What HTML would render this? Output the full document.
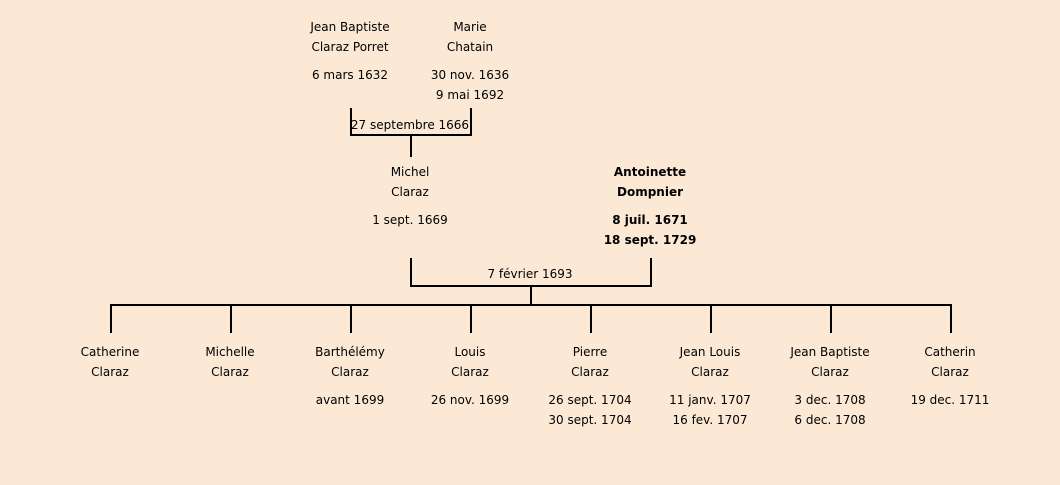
<!DOCTYPE html>
<html><head><meta charset="utf-8"><style>
body{margin:0;width:1060px;height:485px;background:#fbe9d6;position:relative;overflow:hidden;font-family:"DejaVu Sans","Liberation Sans",sans-serif;font-size:12px;color:#000}
.t{position:absolute;width:160px;margin-left:-80px;text-align:center;line-height:20px;white-space:nowrap}
.b{font-weight:bold}
.l{position:absolute;background:#000}
</style></head><body>
<div class="t" style="left:350px;top:17px">Jean Baptiste<br>Claraz Porret</div>
<div class="t" style="left:350px;top:65px">6 mars 1632</div>
<div class="t" style="left:470px;top:17px">Marie<br>Chatain</div>
<div class="t" style="left:470px;top:65px">30 nov. 1636<br>9 mai 1692</div>
<div class="l" style="left:350px;top:108px;width:2px;height:28px"></div>
<div class="l" style="left:470px;top:108px;width:2px;height:28px"></div>
<div class="l" style="left:350px;top:134px;width:122px;height:2px"></div>
<div class="t" style="left:410px;top:115px">27 septembre 1666</div>
<div class="l" style="left:410px;top:136px;width:2px;height:21px"></div>

<div class="t" style="left:410px;top:162px">Michel<br>Claraz</div>
<div class="t" style="left:410px;top:210px">1 sept. 1669</div>
<div class="t b" style="left:650px;top:162px">Antoinette<br>Dompnier</div>
<div class="t b" style="left:650px;top:210px">8 juil. 1671<br>18 sept. 1729</div>
<div class="l" style="left:410px;top:258px;width:2px;height:29px"></div>
<div class="l" style="left:650px;top:258px;width:2px;height:29px"></div>
<div class="l" style="left:410px;top:285px;width:242px;height:2px"></div>
<div class="t" style="left:530px;top:264px">7 février 1693</div>
<div class="l" style="left:530px;top:287px;width:2px;height:19px"></div>
<div class="l" style="left:110px;top:304px;width:842px;height:2px"></div>
<div class="l" style="left:110px;top:304px;width:2px;height:29px"></div>
<div class="l" style="left:230px;top:304px;width:2px;height:29px"></div>
<div class="l" style="left:350px;top:304px;width:2px;height:29px"></div>
<div class="l" style="left:470px;top:304px;width:2px;height:29px"></div>
<div class="l" style="left:590px;top:304px;width:2px;height:29px"></div>
<div class="l" style="left:710px;top:304px;width:2px;height:29px"></div>
<div class="l" style="left:830px;top:304px;width:2px;height:29px"></div>
<div class="l" style="left:950px;top:304px;width:2px;height:29px"></div>

<div class="t" style="left:110px;top:342px">Catherine<br>Claraz</div>
<div class="t" style="left:230px;top:342px">Michelle<br>Claraz</div>
<div class="t" style="left:350px;top:342px">Barthélémy<br>Claraz</div>
<div class="t" style="left:350px;top:390px">avant 1699</div>
<div class="t" style="left:470px;top:342px">Louis<br>Claraz</div>
<div class="t" style="left:470px;top:390px">26 nov. 1699</div>
<div class="t" style="left:590px;top:342px">Pierre<br>Claraz</div>
<div class="t" style="left:590px;top:390px">26 sept. 1704<br>30 sept. 1704</div>
<div class="t" style="left:710px;top:342px">Jean Louis<br>Claraz</div>
<div class="t" style="left:710px;top:390px">11 janv. 1707<br>16 fev. 1707</div>
<div class="t" style="left:830px;top:342px">Jean Baptiste<br>Claraz</div>
<div class="t" style="left:830px;top:390px">3 dec. 1708<br>6 dec. 1708</div>
<div class="t" style="left:950px;top:342px">Catherin<br>Claraz</div>
<div class="t" style="left:950px;top:390px">19 dec. 1711</div>
</body></html>
